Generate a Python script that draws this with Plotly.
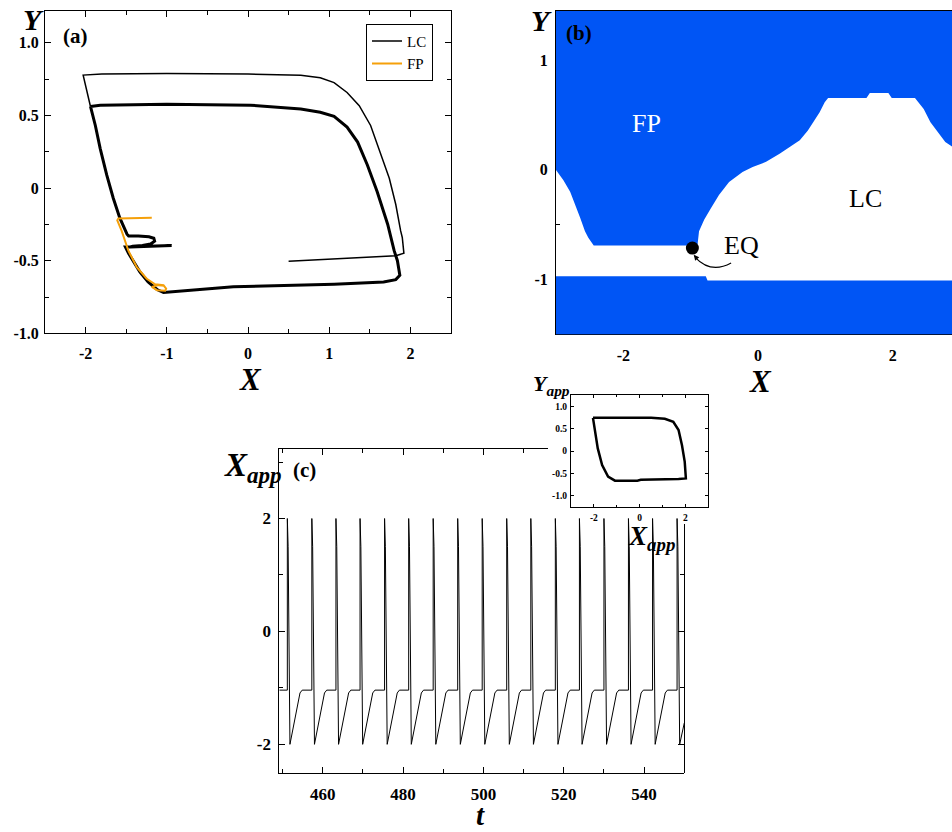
import plotly.graph_objects as go

W, H = 952, 832
SERIF = "Liberation Serif"
BLUE = "#0055F5"
ORANGE = "#F5A00A"

# ---------------- (a) phase-plane trajectories ----------------
lc_transient_x = [0.50, 1.00, 1.50, 1.82, 1.92, 1.90, 1.88, 1.82, 1.74, 1.63, 1.51, 1.37, 1.22,
                  1.06, 0.89, 0.65, 0.00, -1.00, -1.80, -2.03, -2.00, -1.97, -1.94]
lc_transient_y = [-0.503, -0.490, -0.475, -0.465, -0.449, -0.34, -0.295, -0.113, 0.068, 0.249,
                  0.431, 0.567, 0.658, 0.726, 0.760, 0.776, 0.785, 0.789, 0.785, 0.778, 0.70,
                  0.62, 0.562]

lc_cycle_x = [-1.94, -1.88, -1.82, -1.74, -1.66, -1.58, -1.49, -1.47, -1.35, -1.22, -1.16, -1.15,
              -1.20, -1.30, -1.42, -1.45, -1.20, -0.94, -1.20, -1.51, -1.47, -1.43, -1.33, -1.23,
              -1.12, -1.04, -0.92, -0.18, 1.06, 1.67, 1.82, 1.87, 1.84, 1.80, 1.72, 1.59, 1.47,
              1.35, 1.22, 1.06, 0.89, 0.65, 0.03, -1.00, -1.82, -1.94]
lc_cycle_y = [0.562, 0.431, 0.272, 0.091, -0.068, -0.204, -0.317, -0.33, -0.33, -0.335, -0.345,
              -0.365, -0.385, -0.395, -0.40, -0.405, -0.40, -0.395, -0.40, -0.405, -0.45, -0.488,
              -0.578, -0.646, -0.698, -0.719, -0.714, -0.68, -0.662, -0.646, -0.63, -0.60, -0.50,
              -0.431, -0.249, -0.023, 0.159, 0.317, 0.42, 0.494, 0.522, 0.544, 0.571, 0.578,
              0.571, 0.562]

fp_traj_x = [-1.185, -1.597, -1.61, -1.556, -1.473, -1.37, -1.247, -1.144, -1.04, -1.008, -1.02,
             -1.12, -1.185, -1.10, -1.03]
fp_traj_y = [-0.204, -0.209, -0.222, -0.295, -0.431, -0.544, -0.624, -0.662, -0.669, -0.692,
             -0.707, -0.703, -0.68, -0.668, -0.672]

# ---------------- (b) basins of attraction ----------------
fp_basin_x = [-3.1, -3.1, -3.01, -2.89, -2.79, -2.71, -2.64, -2.57, -2.52, -2.44, -0.90, -0.876,
              -0.80, -0.70, -0.58, -0.43, -0.23, -0.08, 0.12, 0.32, 0.47, 0.62, 0.74, 0.84, 0.915,
              0.99, 1.04, 1.61, 1.66, 1.935, 1.985, 2.33, 2.46, 2.56, 2.68, 2.78, 2.885, 3.0, 3.0]
fp_basin_y = [1.6, 0.006, 0.006, -0.094, -0.2, -0.32, -0.44, -0.56, -0.62, -0.69, -0.69, -0.56,
              -0.456, -0.35, -0.23, -0.11, -0.02, 0.027, 0.073, 0.148, 0.21, 0.27, 0.36, 0.45,
              0.526, 0.616, 0.656, 0.656, 0.70, 0.70, 0.656, 0.656, 0.556, 0.435, 0.33, 0.254,
              0.21, 0.17, 1.6]
low_basin_x = [-3.1, -0.776, -0.75, 3.0, 3.0, -3.1]
low_basin_y = [-0.97, -0.97, -1.01, -1.01, -1.6, -1.6]
eq_x = [-0.975]
eq_y = [-0.713]

# ---------------- (c) time series of X_app ----------------
t_c = [449.2,
       451.2, 451.2, 451.4, 451.85, 454.35, 454.9,
       457.3, 457.3, 457.5, 457.95, 460.45, 461.0,
       463.3, 463.3, 463.5, 463.95, 466.45, 467.0,
       469.3, 469.3, 469.5, 469.95, 472.45, 473.0,
       475.4, 475.4, 475.6, 476.05, 478.55, 479.1,
       481.4, 481.4, 481.6, 482.05, 484.55, 485.1,
       487.5, 487.5, 487.7, 488.15, 490.65, 491.2,
       493.6, 493.6, 493.8, 494.25, 496.75, 497.3,
       499.7, 499.7, 499.9, 500.35, 502.85, 503.4,
       505.8, 505.8, 506.0, 506.45, 508.95, 509.5,
       511.8, 511.8, 512.0, 512.45, 514.95, 515.5,
       517.9, 517.9, 518.1, 518.55, 521.05, 521.6,
       523.9, 523.9, 524.1, 524.55, 527.05, 527.6,
       530.0, 530.0, 530.2, 530.65, 533.15, 533.7,
       536.1, 536.1, 536.3, 536.75, 539.25, 539.8,
       542.1, 542.1, 542.3, 542.75, 545.25, 545.8,
       548.2, 548.2, 548.4, 548.85, 550.0]
x_c = [-1.04,
       -1.04, 2.0, 1.5, -2.0, -1.09, -1.04,
       -1.04, 2.0, 1.5, -2.0, -1.09, -1.04,
       -1.04, 2.0, 1.5, -2.0, -1.09, -1.04,
       -1.04, 2.0, 1.5, -2.0, -1.09, -1.04,
       -1.04, 2.0, 1.5, -2.0, -1.09, -1.04,
       -1.04, 2.0, 1.5, -2.0, -1.09, -1.04,
       -1.04, 2.0, 1.5, -2.0, -1.09, -1.04,
       -1.04, 2.0, 1.5, -2.0, -1.09, -1.04,
       -1.04, 2.0, 1.5, -2.0, -1.09, -1.04,
       -1.04, 2.0, 1.5, -2.0, -1.09, -1.04,
       -1.04, 2.0, 1.5, -2.0, -1.09, -1.04,
       -1.04, 2.0, 1.5, -2.0, -1.09, -1.04,
       -1.04, 2.0, 1.5, -2.0, -1.09, -1.04,
       -1.04, 2.0, 1.5, -2.0, -1.09, -1.04,
       -1.04, 2.0, 1.5, -2.0, -1.09, -1.04,
       -1.04, 2.0, 1.5, -2.0, -1.09, -1.04,
       -1.04, 2.0, 1.5, -2.0, -1.62]

# inset: limit cycle of (X_app, Y_app)
inset_x = [-2.04, 0.5, 1.1, 1.47, 1.70, 1.85, 1.97, 2.02, 1.70, 0.05, -0.10, -1.08, -1.38, -1.64,
           -1.83, -1.98, -2.04]
inset_y = [0.74, 0.74, 0.72, 0.65, 0.47, 0.13, -0.24, -0.61, -0.62, -0.64, -0.66, -0.66, -0.57,
           -0.31, 0.06, 0.51, 0.74]

# tick values / labels
a_xticks, a_xlabels = [-2, -1, 0, 1, 2], ["-2", "-1", "0", "1", "2"]
a_yticks, a_ylabels = [-1.0, -0.5, 0, 0.5, 1.0], ["-1.0", "-0.5", "0", "0.5", "1.0"]
b_xticks, b_xlabels = [-2, 0, 2], ["-2", "0", "2"]
b_yticks, b_ylabels = [-1, 0, 1], ["-1", "0", "1"]
c_xticks, c_xlabels = [460, 480, 500, 520, 540], ["460", "480", "500", "520", "540"]
c_yticks, c_ylabels = [-2, 0, 2], ["-2", "0", "2"]
in_xticks, in_xlabels = [-2, 0, 2], ["-2", "0", "2"]
in_yticks, in_ylabels = [-1.0, -0.5, 0, 0.5, 1.0], ["-1.0", "-0.5", "0", "0.5", "1.0"]


def px(x):
    return x / W


def py(y):
    return 1 - y / H


fig = go.Figure()

# (a)
fig.add_trace(go.Scatter(x=lc_transient_x, y=lc_transient_y, mode="lines", name="LC",
                         line=dict(color="black", width=1.5), xaxis="x", yaxis="y"))
fig.add_trace(go.Scatter(x=lc_cycle_x, y=lc_cycle_y, mode="lines", showlegend=False,
                         line=dict(color="black", width=3), xaxis="x", yaxis="y"))
fig.add_trace(go.Scatter(x=fp_traj_x, y=fp_traj_y, mode="lines", name="FP",
                         line=dict(color=ORANGE, width=2), xaxis="x", yaxis="y"))

# (b)
fig.add_trace(go.Scatter(x=fp_basin_x, y=fp_basin_y, mode="lines", fill="toself",
                         fillcolor=BLUE, line=dict(color=BLUE, width=0), showlegend=False,
                         xaxis="x2", yaxis="y2"))
fig.add_trace(go.Scatter(x=low_basin_x, y=low_basin_y, mode="lines", fill="toself",
                         fillcolor=BLUE, line=dict(color=BLUE, width=0), showlegend=False,
                         xaxis="x2", yaxis="y2"))
fig.add_trace(go.Scatter(x=eq_x, y=eq_y, mode="markers", showlegend=False,
                         marker=dict(color="black", size=13), xaxis="x2", yaxis="y2"))

# (c)
fig.add_trace(go.Scatter(x=t_c, y=x_c, mode="lines", showlegend=False,
                         line=dict(color="black", width=1), xaxis="x3", yaxis="y3"))
# inset
fig.add_trace(go.Scatter(x=inset_x, y=inset_y, mode="lines", showlegend=False,
                         line=dict(color="black", width=2.5), xaxis="x4", yaxis="y4"))
# empty traces carrying the partial top / right frame of (c)
fig.add_trace(go.Scatter(x=[], y=[], showlegend=False, xaxis="x5", yaxis="y3"))
fig.add_trace(go.Scatter(x=[], y=[], showlegend=False, xaxis="x3", yaxis="y5"))


def axis(domain, rng, tickvals, ticktext, minor_vals, size=16, ticklen=6, minorlen=4,
         mirror="allticks", **kw):
    d = dict(domain=domain, range=rng, tickmode="array", tickvals=tickvals, ticktext=ticktext,
             ticks="inside", ticklen=ticklen, tickwidth=1, tickcolor="black",
             showline=True, linecolor="black", linewidth=1, mirror=mirror,
             showgrid=False, zeroline=False,
             tickfont=dict(family=SERIF, size=size, color="black", weight="bold"),
             minor=dict(tickmode="array", tickvals=minor_vals, ticks="inside",
                        ticklen=minorlen, tickcolor="black", showgrid=False))
    d.update(kw)
    return d


fig.update_layout(
    width=W, height=H, margin=dict(l=0, r=0, t=0, b=0),
    paper_bgcolor="white", plot_bgcolor="rgba(0,0,0,0)",
    xaxis=axis([px(45), px(451)], [-2.5, 2.5], a_xticks, a_xlabels,
               [-2.5, -1.5, -0.5, 0.5, 1.5, 2.5], anchor="y", ticklabelstandoff=5),
    yaxis=axis([py(337), py(11)], [-1.0, 1.22], a_yticks, a_ylabels,
               [-0.75, -0.25, 0.25, 0.75], anchor="x", ticklabelstandoff=2),
    xaxis2=axis([px(556), 1.0], [-3.0, 2.88], b_xticks, b_xlabels, [-1, 1],
                anchor="y2", layer="below traces", mirror="ticks", ticklabelstandoff=6),
    yaxis2=axis([py(338), py(11)], [-1.5, 1.45], b_yticks, b_ylabels, [-0.5, 0.5],
                anchor="x2", layer="below traces", mirror=False, ticklabelstandoff=4),
    xaxis3=axis([px(279.3), px(684.3)], [449.2, 550.0], c_xticks, c_xlabels,
                [450, 470, 490, 510, 530, 550], size=17, mirror=False, anchor="y3",
                ticklabelstandoff=6),
    yaxis3=axis([py(781), py(454)], [-2.5, 3.23], c_yticks, c_ylabels, [-1, 1, 3],
                size=17, mirror=False, anchor="x3", ticklabelstandoff=4),
    xaxis5=axis([px(279.3), px(548)], [449.2, 516.04], c_xticks, c_xlabels,
                [450, 470, 490, 510], mirror=False, anchor="y3", side="top",
                showticklabels=False),
    yaxis5=axis([py(781), py(530)], [-2.5, 1.898], c_yticks, c_ylabels, [-1, 1],
                mirror=False, anchor="x3", side="right", showticklabels=False),
    xaxis4=axis([px(571), px(708.3)], [-3, 3], in_xticks, in_xlabels, [-1, 1], size=9.5,
                ticklen=3, minorlen=2, anchor="y4", ticklabelstandoff=1),
    yaxis4=axis([py(512.7), py(399.3)], [-1.25, 1.25], in_yticks, in_ylabels, [], size=9.5,
                ticklen=3, minorlen=2, anchor="x4", ticklabelstandoff=1),
    legend=dict(x=px(433), xanchor="right", y=py(24), yanchor="top",
                bordercolor="black", borderwidth=1, bgcolor="white",
                font=dict(family=SERIF, size=15, color="black"), tracegroupgap=0,
                itemwidth=30),
)

# curved arrow from the EQ label to the equilibrium point
fig.add_shape(type="path", xref="x2", yref="y2",
              path="M -0.40,-0.85 Q -0.70,-0.95 -0.93,-0.80",
              line=dict(color="black", width=1.2))

ann = []


def label(text, x, y, size, color="black", xref="paper", yref="paper", xanchor="center",
          yanchor="middle", yshift=0):
    ann.append(dict(text=text, x=x, y=y, xref=xref, yref=yref, showarrow=False,
                    xanchor=xanchor, yanchor=yanchor, yshift=yshift,
                    font=dict(family=SERIF, size=size, color=color)))


label("<b>(a)</b>", px(75), py(36), 21)
label("<b>(b)</b>", px(579), py(33), 21)
label("<b>(c)</b>", px(304), py(475), 21)
label("<b><i>Y</i></b>", px(33), py(20), 30)
label("<b><i>X</i></b>", px(250), py(384), 31)
label("<b><i>Y</i></b>", px(541), py(21), 30)
label("<b><i>X</i></b>", px(760), py(386), 31)
label("<b><i>t</i></b>", px(480), py(832), 29, yanchor="bottom", yshift=-10)
label("<b><i>X<sub>app</sub></i></b>", px(222), py(473), 33, xanchor="left")
label("<b><i>Y<sub>app</sub></i></b>", px(531), py(389), 22, xanchor="left")
label("<b><i>X<sub>app</sub></i></b>", px(626), py(544), 27, xanchor="left")
label("FP", -1.66, 0.42, 26, color="white", xref="x2", yref="y2")
label("LC", 1.59, -0.26, 26, xref="x2", yref="y2")
label("EQ", -0.25, -0.69, 26, xref="x2", yref="y2")

ann.append(dict(x=-0.955, y=-0.775, ax=-0.90, ay=-0.815, xref="x2", yref="y2",
                axref="x2", ayref="y2", text="", showarrow=True, arrowhead=2,
                arrowsize=0.9, arrowwidth=1.2, arrowcolor="black"))

fig.update_layout(annotations=ann)

fig.write_html("out.html")
